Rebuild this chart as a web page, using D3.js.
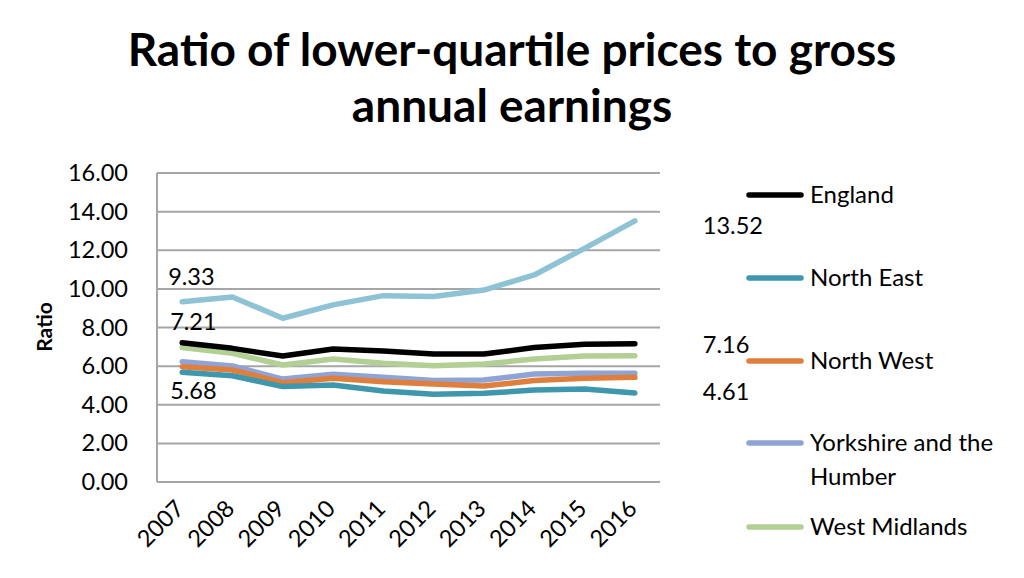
<!DOCTYPE html>
<html><head><meta charset="utf-8">
<script src="https://cdn.jsdelivr.net/npm/d3@7"></script>
<style>body{margin:0;background:#fff}svg{display:block}text{font-family:Lato,"Open Sans",sans-serif}</style>
</head><body><svg id="c" width="1024" height="578"></svg>
<script>
const years = ["2007","2008","2009","2010","2011","2012","2013","2014","2015","2016"];
const yTicks = [0,2,4,6,8,10,12,14,16];
const england = [7.21,6.92,6.52,6.89,6.78,6.63,6.63,6.96,7.13,7.16];
const northEast = [5.68,5.50,4.94,5.02,4.71,4.54,4.59,4.76,4.82,4.61];
const northWest = [5.97,5.80,5.14,5.37,5.19,5.07,4.97,5.25,5.37,5.42];
const yorkshire = [6.23,6.01,5.33,5.58,5.42,5.25,5.28,5.59,5.63,5.63];
const westMidlands = [6.96,6.66,6.06,6.37,6.15,6.02,6.11,6.37,6.52,6.54];
const london = [9.33,9.58,8.48,9.17,9.65,9.60,9.94,10.72,12.10,13.52];
const seriesNames = ["England","North East","North West","Yorkshire and the Humber","West Midlands","London"];
const seriesColors = ["#000000","#3f97ad","#e07e3c","#8fa4d4","#b2cf94","#8ec3d5"];
const seriesValues = [england,northEast,northWest,yorkshire,westMidlands,london];

const svg = d3.select("#c");
const L=157, R=660, T=173, B=482;
const NUM = 23.5;
const x = d3.scalePoint().domain(years).range([L,R]).padding(0.5);
const y = d3.scaleLinear().domain([0,16]).range([B,T]);

// gridlines
svg.append("g").selectAll("line").data(yTicks).join("line")
  .attr("x1",L).attr("x2",R).attr("y1",d=>y(d)).attr("y2",d=>y(d))
  .attr("stroke","#a6a6a6").attr("stroke-width",2);
svg.append("line").attr("x1",L).attr("x2",L).attr("y1",T).attr("y2",B)
  .attr("stroke","#a6a6a6").attr("stroke-width",2);

// y axis
const ya = svg.append("g").attr("transform",`translate(${L},0)`)
  .call(d3.axisLeft(y).tickValues(yTicks).tickFormat(d3.format(".2f")).tickSize(0).tickPadding(29));
ya.select(".domain").remove();
ya.selectAll("text").attr("font-size",NUM).attr("fill","#000").attr("font-family","Lato");

// x axis labels
const xa = svg.append("g").attr("transform",`translate(0,${B})`)
  .call(d3.axisBottom(x).tickSize(0));
xa.select(".domain").remove();
xa.selectAll("text").attr("font-size",NUM).attr("fill","#000").attr("font-family","Lato")
  .attr("text-anchor","end").attr("dy",0).attr("y",0)
  .attr("transform","translate(3,28) rotate(-45)");

// lines
const line = d3.line().x((d,i)=>x(years[i])).y(d=>y(d));
const order = [5,4,3,2,1,0];
svg.append("g").selectAll("path").data(order).join("path")
  .attr("d",i=>line(seriesValues[i])).attr("fill","none")
  .attr("stroke",i=>seriesColors[i]).attr("stroke-width",5.5)
  .attr("stroke-linecap","round").attr("stroke-linejoin","round");

// data labels
const labels = [
  {v:london[0], yr:"2007", dx:-14, dy:-17},
  {v:england[0], yr:"2007", dx:-12, dy:-13},
  {v:northEast[0], yr:"2007", dx:-12, dy:27},
  {v:london[9], yr:"2016", dx:68, dy:13},
  {v:england[9], yr:"2016", dx:68, dy:9},
  {v:northEast[9], yr:"2016", dx:68, dy:7}
];
svg.append("g").selectAll("text").data(labels).join("text")
  .attr("x",d=>x(d.yr)+d.dx).attr("y",d=>y(d.v)+d.dy)
  .attr("text-anchor","start").attr("font-size",NUM).attr("fill","#000")
  .text(d=>d3.format(".2f")(d.v));

// legend
const legY = [195,278,361,443,527];
const lg = svg.append("g");
[0,1,2,3,4].forEach((i,k)=>{
  lg.append("line").attr("x1",749).attr("x2",801).attr("y1",legY[k]).attr("y2",legY[k])
    .attr("stroke",seriesColors[i]).attr("stroke-width",5.5).attr("stroke-linecap","round");
  const t = lg.append("text").attr("x",810).attr("y",legY[k]+8).attr("font-size",24).attr("fill","#000");
  if(i===3){
    t.append("tspan").attr("x",810).text("Yorkshire and the");
    t.append("tspan").attr("x",810).attr("dy",34).text("Humber");
  } else t.text(seriesNames[i]);
});

// y title
svg.append("text").attr("transform","translate(52,327) rotate(-90)")
  .attr("text-anchor","middle").attr("font-size",21).attr("font-weight","bold").text("Ratio");

// title
const title = svg.append("text").attr("text-anchor","middle").attr("font-weight","bold").attr("font-size",44);
title.append("tspan").attr("x",512).attr("y",66).text("Ratio of lower-quartile prices to gross");
title.append("tspan").attr("x",512).attr("y",122).text("annual earnings");
const w = title.select("tspan").node().getComputedTextLength();
title.attr("font-size",44*769/w);
</script></body></html>
